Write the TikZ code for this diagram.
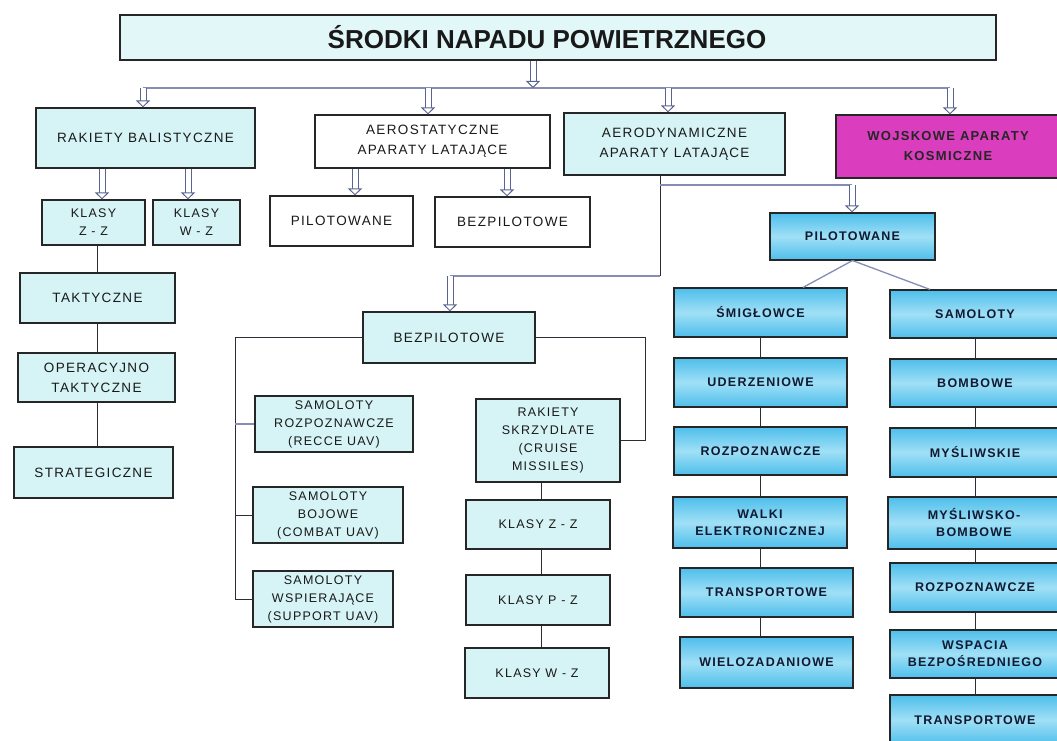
\documentclass[tikz,border=0pt]{standalone}
\usepackage{fontspec}
\setmainfont{Liberation Sans}[LetterSpace=10]
\newfontfamily\titlefont{Liberation Sans}
\usetikzlibrary{arrows.meta}
\definecolor{lcyan}{RGB}{214,243,245}
\definecolor{tcyan}{RGB}{226,247,248}
\definecolor{bblue}{RGB}{78,190,235}
\definecolor{bblueL}{RGB}{160,224,246}
\definecolor{mag}{RGB}{218,62,190}
\definecolor{busc}{RGB}{135,140,180}
\definecolor{linkc}{RGB}{45,45,55}
\definecolor{arrc}{RGB}{90,100,145}
\definecolor{btext}{RGB}{15,25,50}
\begin{document}
\begin{tikzpicture}[x=1pt,y=-1pt,
  base/.style={draw=black!85,line width=1.1pt,inner sep=2pt,align=center,text=black!90,
    font=\fontsize{13.5}{20}\selectfont},
  cy/.style={base,fill=lcyan},
  wt/.style={base,fill=white},
  sm/.style={font=\fontsize{12.5}{18}\selectfont},
  bl/.style={base,top color=bblue,bottom color=bblue,middle color=bblueL,text=btext,
    font=\fontsize{12.5}{17}\selectfont\bfseries},
  mg/.style={base,fill=mag,text=black!85,font=\fontsize{13}{20}\selectfont\bfseries},
  dim/.style 2 args={minimum width=#1,minimum height=#2},
  bus/.style={draw=busc,line width=1.3pt},
  link/.style={draw=linkc,line width=1pt},
  harrow/.style={draw=arrc,line width=1pt,double=white,double distance=5pt,
    -{Triangle[length=7pt,width=14pt,fill=white,line width=1pt]}}
]
\fill[white] (0,0) rectangle (1057,741);
\useasboundingbox (0,0) rectangle (1057,741);

% top level
\node[cy,fill=tcyan,dim={876pt}{45pt},font=\titlefont\bfseries\fontsize{26}{30}\selectfont] (title) at (558,37.5) {ŚRODKI NAPADU POWIETRZNEGO\hspace*{22pt}};
\node[cy,dim={219pt}{60pt}] (rb) at (145.5,138) {RAKIETY BALISTYCZNE};
\node[wt,dim={235pt}{53pt}] (aero) at (432.5,141.5) {AEROSTATYCZNE\\APARATY LATAJĄCE};
\node[cy,dim={221pt}{62pt}] (adyn) at (674.5,144) {AERODYNAMICZNE\\APARATY LATAJĄCE};
\node[mg,dim={224pt}{63pt}] (kosm) at (948,146.5) {WOJSKOWE APARATY\\KOSMICZNE};

% ballistic
\node[cy,dim={103pt}{45pt},sm] (kzz) at (93.5,222.5) {KLASY\\Z - Z};
\node[cy,dim={87pt}{45pt},sm] (kwz) at (196.5,222.5) {KLASY\\W - Z};
\node[cy,dim={155pt}{50pt}] (takt) at (97.5,298) {TAKTYCZNE};
\node[cy,dim={157pt}{49pt}] (optakt) at (96.5,377.5) {OPERACYJNO\\TAKTYCZNE};
\node[cy,dim={159pt}{51pt}] (strat) at (93.5,472.5) {STRATEGICZNE};

% aerostatic
\node[wt,dim={143pt}{50pt}] (apil) at (341.5,221) {PILOTOWANE};
\node[wt,dim={155pt}{50pt}] (abez) at (512.5,222) {BEZPILOTOWE};

% unmanned
\node[cy,dim={172pt}{51pt}] (bez) at (449,337.5) {BEZPILOTOWE};
\node[cy,dim={158pt}{56pt},sm] (srozp) at (334,424) {SAMOLOTY\\ROZPOZNAWCZE\\(RECCE UAV)};
\node[cy,dim={150pt}{56pt},sm] (sboj) at (328,515) {SAMOLOTY\\BOJOWE\\(COMBAT UAV)};
\node[cy,dim={140pt}{56pt},sm] (swsp) at (323,599) {SAMOLOTY\\WSPIERAJĄCE\\(SUPPORT UAV)};
\node[cy,dim={144pt}{83pt},sm] (rsk) at (548,440.5) {RAKIETY\\SKRZYDLATE\\(CRUISE\\MISSILES)};
\node[cy,dim={144pt}{49pt},sm] (kzz2) at (538,524.5) {KLASY Z - Z};
\node[cy,dim={144pt}{50pt},sm] (kpz) at (538,600) {KLASY P - Z};
\node[cy,dim={144pt}{50pt},sm] (kwz2) at (537,673) {KLASY W - Z};

% manned
\node[bl,dim={165pt}{47pt}] (pil) at (852.5,236.5) {PILOTOWANE};
\node[bl,dim={173pt}{49pt}] (smig) at (760.5,312.5) {ŚMIGŁOWCE};
\node[bl,dim={173pt}{49pt}] (uder) at (760.5,382.5) {UDERZENIOWE};
\node[bl,dim={173pt}{48pt}] (rozp) at (760.5,451) {ROZPOZNAWCZE};
\node[bl,dim={174pt}{51pt}] (walki) at (760,522.5) {WALKI\\ELEKTRONICZNEJ};
\node[bl,dim={173pt}{49pt}] (trans) at (766.5,592.5) {TRANSPORTOWE};
\node[bl,dim={173pt}{51pt}] (wielo) at (766.5,662.5) {WIELOZADANIOWE};

\node[bl,dim={170pt}{48pt}] (samol) at (975,314) {SAMOLOTY};
\node[bl,dim={170pt}{48pt}] (bomb) at (975,383) {BOMBOWE};
\node[bl,dim={170pt}{49pt}] (mysl) at (975,452.5) {MYŚLIWSKIE};
\node[bl,dim={172pt}{52pt}] (mbomb) at (974,523) {MYŚLIWSKO-\\BOMBOWE};
\node[bl,dim={170pt}{49pt}] (rozp2) at (975,587.5) {ROZPOZNAWCZE};
\node[bl,dim={170pt}{48pt}] (wsp) at (975,654) {WSPACIA\\BEZPOŚREDNIEGO};
\node[bl,dim={170pt}{50pt}] (trans2) at (975,720) {TRANSPORTOWE};

% ---- connectors ----
\coordinate (bt) at (533,88);
\coordinate (b1) at (143,88);
\coordinate (b2) at (428,88);
\coordinate (b3) at (668,88);
\coordinate (b4) at (950,88);
\draw[bus] (b1) -- (b4);
\draw[harrow] (title.south -| bt) -- (bt);
\draw[harrow] (b1) -- (rb.north -| b1);
\draw[harrow] (b2) -- (aero.north -| b2);
\draw[harrow] (b3) -- (adyn.north -| b3);
\draw[harrow] (b4) -- (kosm.north -| b4);

\coordinate (ra) at (102,0);
\coordinate (rw) at (188,0);
\draw[harrow] (rb.south -| ra) -- (kzz.north -| ra);
\draw[harrow] (rb.south -| rw) -- (kwz.north -| rw);

\coordinate (sa) at (355,0);
\coordinate (sb) at (507,0);
\draw[harrow] (aero.south -| sa) -- (apil.north -| sa);
\draw[harrow] (aero.south -| sb) -- (abez.north -| sb);

\coordinate (lc) at (97,0);
\draw[link] (kzz.south -| lc) -- (takt.north -| lc);
\draw[link] (takt.south -| lc) -- (optakt.north -| lc);
\draw[link] (optakt.south -| lc) -- (strat.north -| lc);

\coordinate (a1) at (660,276);
\coordinate (a2) at (450,276);
\coordinate (a3) at (660,185);
\coordinate (a4) at (852,185);
\draw[link] (adyn.south -| a1) -- (a1);
\draw[bus] (a1) -- (a2);
\draw[harrow] (a2) -- (bez.north -| a2);
\draw[bus] (a3) -- (a4);
\draw[harrow] (a4) -- (pil.north -| a4);

\coordinate (p1) at (803,0);
\coordinate (p2) at (930,0);
\draw[bus] (pil.south) -- (smig.north -| p1);
\draw[bus] (pil.south) -- (samol.north -| p2);

\coordinate (cl) at (760,0);
\draw[link] (smig.south -| cl) -- (uder.north -| cl);
\draw[link] (uder.south -| cl) -- (rozp.north -| cl);
\draw[link] (rozp.south -| cl) -- (walki.north -| cl);
\draw[link] (walki.south -| cl) -- (trans.north -| cl);
\draw[link] (trans.south -| cl) -- (wielo.north -| cl);

\coordinate (cr) at (975,0);
\draw[link] (samol.south -| cr) -- (bomb.north -| cr);
\draw[link] (bomb.south -| cr) -- (mysl.north -| cr);
\draw[link] (mysl.south -| cr) -- (mbomb.north -| cr);
\draw[link] (mbomb.south -| cr) -- (rozp2.north -| cr);
\draw[link] (rozp2.south -| cr) -- (wsp.north -| cr);
\draw[link] (wsp.south -| cr) -- (trans2.north -| cr);

\coordinate (l1) at (235,0);
\draw[link] (bez.west) -- (bez.west -| l1) -- (swsp.west -| l1) -- (swsp.west);
\draw[bus] (srozp.west -| l1) -- (srozp.west);
\draw[link] (sboj.west -| l1) -- (sboj.west);

\coordinate (r1) at (645,0);
\draw[link] (bez.east) -- (bez.east -| r1) -- (rsk.east -| r1) -- (rsk.east);

\coordinate (mc) at (541,0);
\draw[link] (rsk.south -| mc) -- (kzz2.north -| mc);
\draw[link] (kzz2.south -| mc) -- (kpz.north -| mc);
\draw[link] (kpz.south -| mc) -- (kwz2.north -| mc);
\end{tikzpicture}
\end{document}
